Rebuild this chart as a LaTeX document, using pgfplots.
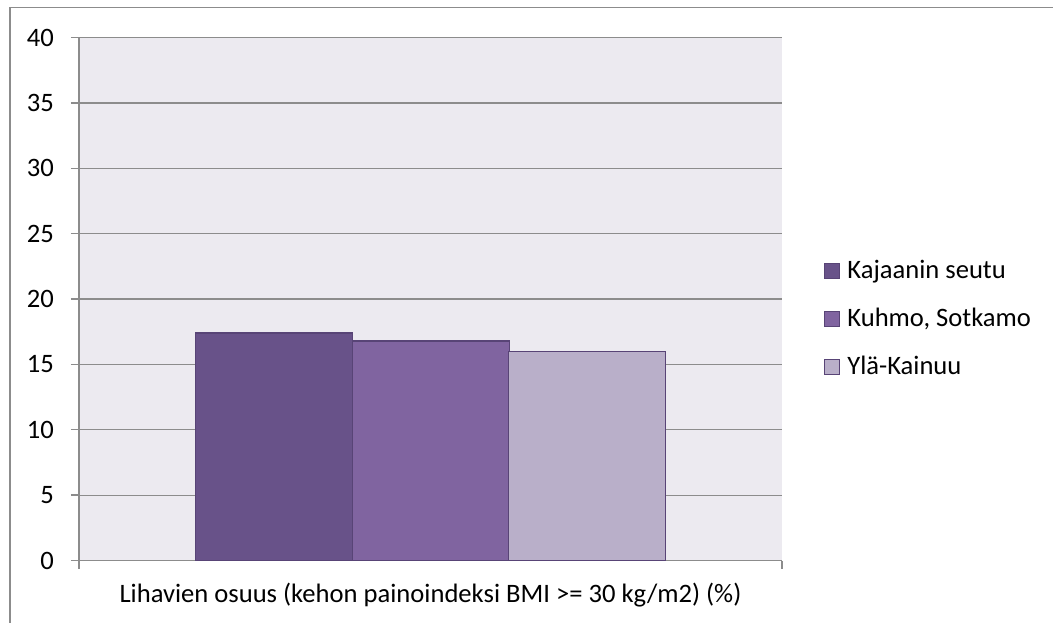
\documentclass[border=0pt]{standalone}
\usepackage{pgfplots}
\pgfplotsset{compat=1.18}
\usepackage{fontspec}
\setmainfont{Carlito}
\definecolor{cA}{HTML}{685289}
\definecolor{cB}{HTML}{8064A0}
\definecolor{cC}{HTML}{B9AFC9}
\definecolor{edge}{HTML}{584476}
\definecolor{bg}{HTML}{ECEAF0}
\definecolor{gridc}{HTML}{8C8C8C}
\begin{document}
\begin{tikzpicture}
\useasboundingbox (0,0) rectangle (1053bp,623bp);
\draw[gridc, line width=1.5bp] (10bp,0) -- (10bp,615.7bp) -- (1053bp,615.7bp);
\begin{axis}[
  at={(79bp,62.5bp)}, anchor=south west,
  scale only axis, width=703bp, height=522.8bp,
  font=\fontsize{26.6bp}{32bp}\selectfont,
  /pgf/number format/assume math mode=true,
  xmin=-0.5, xmax=0.5, ymin=0, ymax=40,
  xtick={-0.5,0.5}, xticklabels={,},
  ytick={0,5,...,40},
  axis x line*=bottom, axis y line*=left,
  axis line style={draw=gridc, line width=1.3bp, -},
  tick style={draw=gridc, line width=1.3bp},
  tick align=outside, major tick length=8bp,
  ymajorgrids, grid style={draw=gridc, line width=1.2bp},
  axis background/.style={fill=bg},
  yticklabel style={anchor=east, inner sep=0pt, xshift=-17bp, font=\fontsize{26.6bp}{32bp}\selectfont},
  xlabel={Lihavien osuus (kehon painoindeksi BMI >= 30 kg/m2) (\%)},
  xlabel style={at={(axis description cs:0.5,0)}, anchor=center, yshift=-35bp},
  legend image code/.code={\draw[#1, line width=1.2bp] (0bp,-6bp) rectangle (15bp,9bp);},
  legend style={draw=none, fill=none, at={(1.0597,0.4591)}, anchor=west,
    inner sep=0pt, row sep=0pt, column sep=7bp,
    nodes={inner sep=0pt, minimum height=48bp, text height=18bp, text depth=5bp, anchor=west},
    font=\fontsize{26.6bp}{32bp}\selectfont},
  legend cell align=left,
]
\addplot[ybar, bar width=0.2226, bar shift=0, fill=cA, draw=edge, line width=1.3bp] coordinates {(-0.2226,17.4)};
\addplot[ybar, bar width=0.2226, bar shift=0, fill=cB, draw=edge, line width=1.3bp] coordinates {(0.0007,16.8)};
\addplot[ybar, bar width=0.2226, bar shift=0, fill=cC, draw=edge, line width=1.3bp] coordinates {(0.2226,16.0)};
\legend{Kajaanin seutu, {Kuhmo, Sotkamo}, Ylä-Kainuu}
\end{axis}
\end{tikzpicture}
\end{document}
